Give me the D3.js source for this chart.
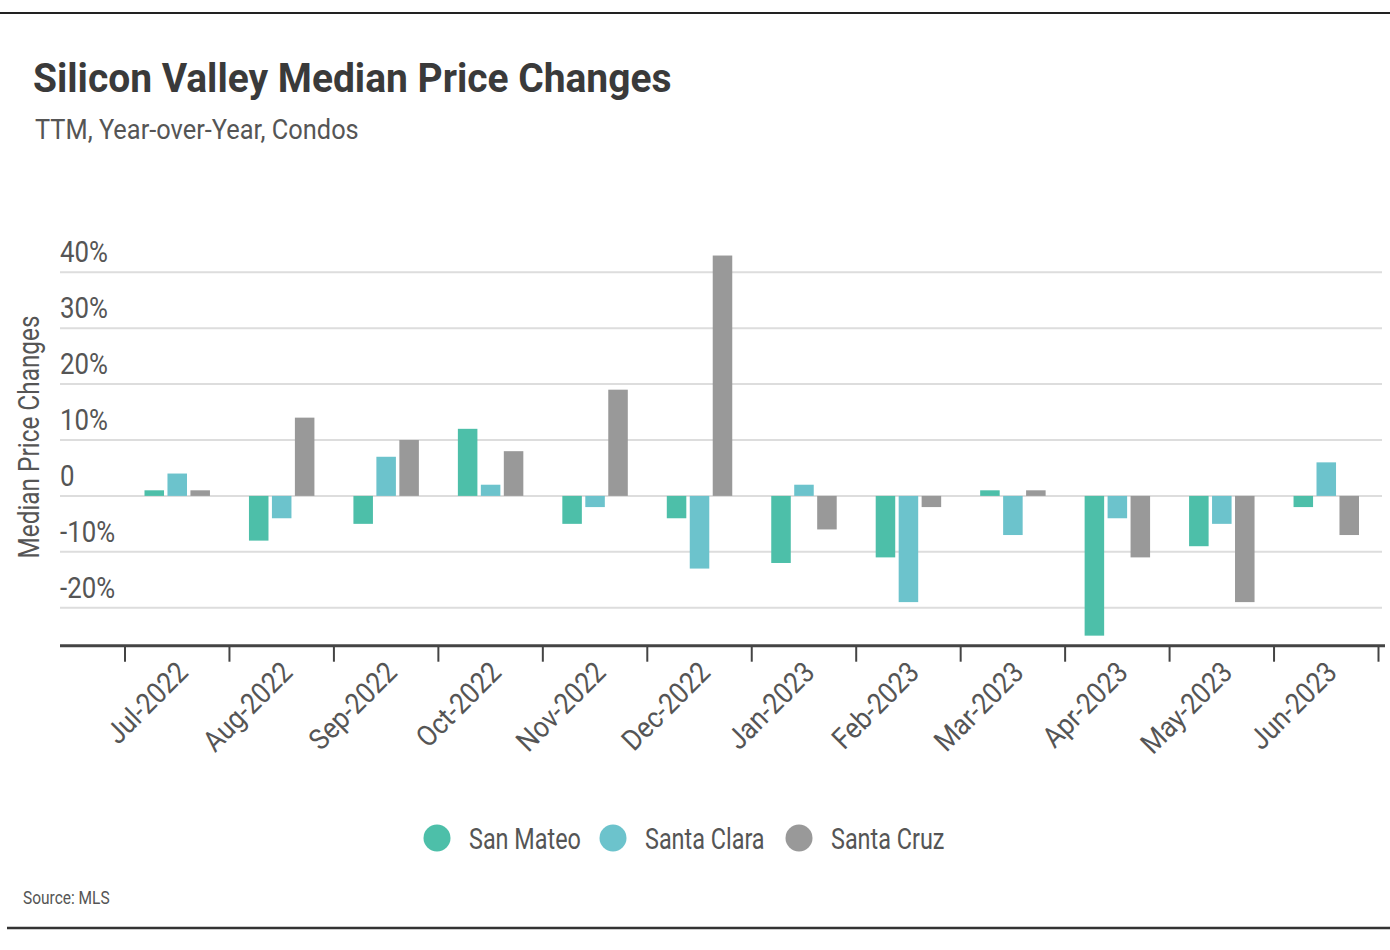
<!DOCTYPE html>
<html>
<head>
<meta charset="utf-8">
<script src="https://cdn.jsdelivr.net/npm/d3@7"></script>
<style>
  body { margin: 0; background: #fff; }
  svg text { font-family: "Roboto", "Liberation Sans", sans-serif; fill: #444; }
</style>
</head>
<body>
<div id="chart"></div>
<script>
// data
const months = ["Jul-2022", "Aug-2022", "Sep-2022", "Oct-2022", "Nov-2022", "Dec-2022",
  "Jan-2023", "Feb-2023", "Mar-2023", "Apr-2023", "May-2023", "Jun-2023"];
const series = ["San Mateo", "Santa Clara", "Santa Cruz"];
const sanMateo = [1, -8, -5, 12, -5, -4, -12, -11, 1, -25, -9, -2];
const santaClara = [4, -4, 7, 2, -2, -13, 2, -19, -7, -4, -5, 6];
const santaCruz = [1, 14, 10, 8, 19, 43, -6, -2, 1, -11, -19, -7];
const yTicks = [-20, -10, 0, 10, 20, 30, 40];
const colors = ["#4dbfa9", "#6cc3cc", "#999999"];

const W = 1390, H = 950;
const values = [sanMateo, santaClara, santaCruz];
const rows = months.map((m, i) => ({ month: m, vals: series.map((s, k) => ({ s, v: values[k][i] })) }));

// the original uses a narrow face; squeeze the installed one horizontally
function squeeze(sel, f) {
  sel.each(function () {
    const len = this.getComputedTextLength();
    d3.select(this).attr("textLength", len * f).attr("lengthAdjust", "spacingAndGlyphs");
  });
}

const svg = d3.select("#chart").append("svg").attr("width", W).attr("height", H);

// frame lines
svg.append("line").attr("x1", 0).attr("x2", W).attr("y1", 13).attr("y2", 13)
  .attr("stroke", "#222").attr("stroke-width", 2);
svg.append("line").attr("x1", 7).attr("x2", W).attr("y1", 928).attr("y2", 928)
  .attr("stroke", "#333").attr("stroke-width", 2.5);

svg.append("text").attr("x", 33).attr("y", 92)
  .style("font-size", "41px").style("font-weight", "bold").style("fill", "#3a3a3a")
  .text("Silicon Valley Median Price Changes")
  .call(squeeze, 0.95);
svg.append("text").attr("x", 35).attr("y", 139)
  .style("font-size", "27px").style("fill", "#555")
  .text("TTM, Year-over-Year, Condos")
  .call(squeeze, 0.94);

const x = d3.scaleBand().domain(months).range([125, 1378.5]);
const xs = d3.scaleBand().domain(series).range([19.5, x.bandwidth() - 19.5]).paddingInner(0.15);
const y = d3.scaleLinear().domain([-20, 40]).range([607.7, 272.3]);
const color = d3.scaleOrdinal().domain(series).range(colors);

// gridlines + y labels
const grid = svg.append("g");
grid.selectAll("line").data(yTicks).join("line")
  .attr("x1", 60).attr("x2", 1382)
  .attr("y1", d => y(d)).attr("y2", d => y(d))
  .attr("stroke", "#ddd").attr("stroke-width", 2);
grid.selectAll("text").data(yTicks).join("text")
  .attr("x", 60).attr("y", d => y(d) - 10)
  .style("font-size", "30px").style("fill", "#555")
  .text(d => d === 0 ? "0" : d + "%")
  .call(squeeze, 0.86);

svg.append("text")
  .attr("transform", `translate(39,${y(10) - 3}) rotate(-90)`)
  .attr("text-anchor", "middle")
  .style("font-size", "29px").style("fill", "#555")
  .text("Median Price Changes")
  .call(squeeze, 0.84);

// bars
svg.append("g").selectAll("g").data(rows).join("g")
  .attr("transform", d => `translate(${x(d.month)},0)`)
  .selectAll("rect").data(d => d.vals).join("rect")
  .attr("x", d => xs(d.s))
  .attr("width", xs.bandwidth())
  .attr("y", d => y(Math.max(0, d.v)))
  .attr("height", d => Math.abs(y(d.v) - y(0)))
  .attr("fill", d => color(d.s));

// x axis
const axisY = y(-26.8);
const xAxis = svg.append("g").attr("transform", `translate(0,${axisY})`);
xAxis.append("line").attr("x1", 60).attr("x2", 1385)
  .attr("stroke", "#444").attr("stroke-width", 3);
xAxis.selectAll(".tick").data(months.concat(["end"])).join("line")
  .attr("class", "tick")
  .attr("x1", (d, i) => x.range()[0] + i * x.step())
  .attr("x2", (d, i) => x.range()[0] + i * x.step())
  .attr("y1", 0).attr("y2", 16)
  .attr("stroke", "#444").attr("stroke-width", 2);
xAxis.selectAll("text").data(months).join("text")
  .attr("transform", d => `translate(${x(d) + x.bandwidth() / 2 - 2},${14}) rotate(-45)`)
  .attr("text-anchor", "end")
  .attr("dy", "0.7em")
  .style("font-size", "29px").style("fill", "#555")
  .text(d => d)
  .call(squeeze, 0.9);

// legend
const legend = svg.append("g");
const lx = [437, 613, 799];
legend.selectAll("circle").data(series).join("circle")
  .attr("cx", (d, i) => lx[i]).attr("cy", 838).attr("r", 13.5)
  .attr("fill", d => color(d));
legend.selectAll("text").data(series).join("text")
  .attr("x", (d, i) => lx[i] + 32).attr("y", 849)
  .style("font-size", "30px").style("fill", "#555")
  .text(d => d)
  .call(squeeze, 0.78);

svg.append("text").attr("x", 23).attr("y", 904)
  .style("font-size", "18px").style("fill", "#555")
  .text("Source:  MLS")
  .call(squeeze, 0.86);
</script>
</body>
</html>
